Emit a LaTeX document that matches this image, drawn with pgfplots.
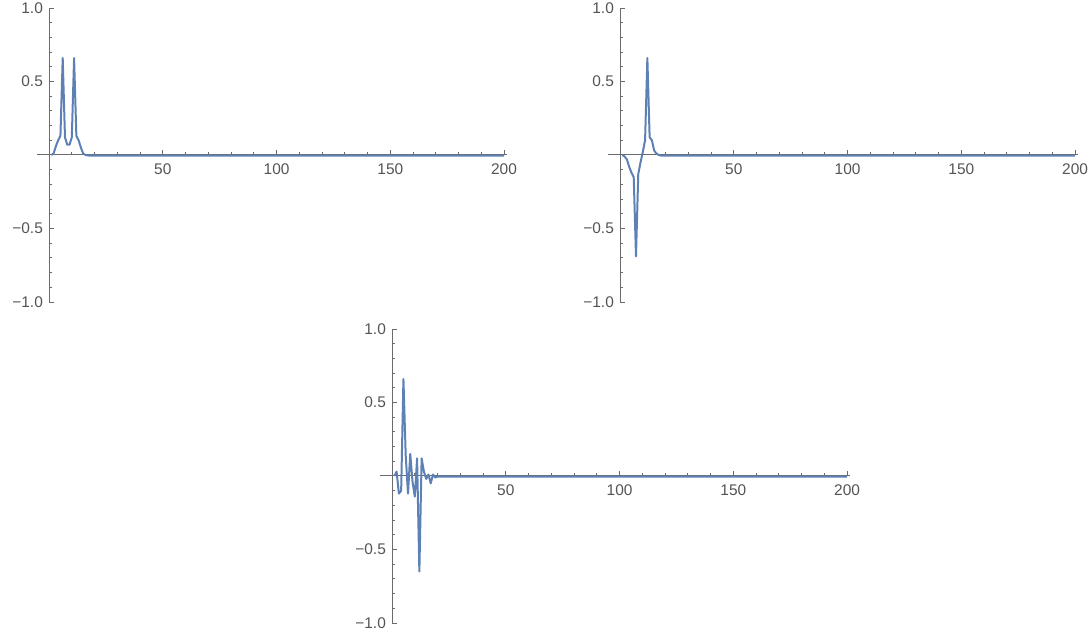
\documentclass[border=0pt]{standalone}
\usepackage{fontspec}
\setmainfont{Liberation Sans}
\usepackage{pgfplots}
\pgfplotsset{compat=1.18}

\definecolor{mblue}{rgb}{0.368417,0.506779,0.709798}
\definecolor{axgray}{gray}{0.42}
\definecolor{lblgray}{gray}{0.33}

\pgfplotsset{
  mma/.style={
    scale only axis,
    width=470bp, height=294bp,
    xmin=-5.3, xmax=201.3, ymin=-1, ymax=1,
    axis lines=middle,
    axis line style={-, axgray, line width=1bp},
    tick align=inside,
    tick style={axgray, line width=0.8bp},
    major tick length=5bp,
    minor tick length=3bp,
    xtick={50,100,150,200},
    xticklabels={50,100,150,200},
    minor xtick={10,20,30,40,60,70,80,90,110,120,130,140,160,170,180,190},
    ytick={-1,-0.5,0.5,1},
    yticklabels={−1.0,−0.5,0.5,1.0},
    minor ytick={-0.9,-0.8,-0.7,-0.6,-0.4,-0.3,-0.2,-0.1,0.1,0.2,0.3,0.4,0.6,0.7,0.8,0.9},
    ticklabel style={font=\fontsize{15.5}{18}\selectfont, text=lblgray},
    xticklabel style={anchor=north, inner sep=0pt, yshift=-9bp},
    yticklabel style={anchor=east, inner sep=0pt, xshift=-6bp},
    clip=false,
  },
  wave/.style={mblue, line width=2bp, line join=round, no marks},
}

\begin{document}
\begin{tikzpicture}
\useasboundingbox (0,0) rectangle (1090bp,635bp);

% top left
\begin{axis}[mma, at={(37bp,333bp)}, anchor=south west]
\addplot[wave] coordinates {
  (1,0) (2,0.01) (3,0.06) (4,0.1) (5,0.13) (6,0.66) (7,0.12) (8,0.07)
  (9,0.07) (10,0.12) (11,0.66) (12,0.13) (13,0.1) (14,0.05) (15,0.01)
  (16,0) (17,-0.003) (18,-0.004) (200,-0.004)};
\end{axis}

% top right
\begin{axis}[mma, at={(608bp,333bp)}, anchor=south west]
\addplot[wave] coordinates {
  (1,0) (2,-0.01) (3,-0.03) (4,-0.08) (5,-0.12) (6,-0.15) (7,-0.69)
  (8,-0.13) (9,-0.05) (10,0.02) (11,0.1) (12,0.66) (13,0.12) (14,0.1)
  (15,0.03) (16,0.01) (17,0) (18,-0.004) (200,-0.004)};
\end{axis}

% bottom
\begin{axis}[mma, at={(380bp,12bp)}, anchor=south west]
\addplot[wave] coordinates {
  (1,0) (2,0.03) (3,-0.12) (4,-0.1) (5,0.66) (6,0.14) (7,-0.12) (8,0.15)
  (9,-0.04) (10,-0.14) (11,0.12) (12,-0.65) (13,0.12) (14,0.03)
  (15,-0.02) (16,0.01) (17,-0.05) (18,0.01) (19,-0.01) (20,-0.004)
  (200,-0.004)};
\end{axis}
\end{tikzpicture}
\end{document}
